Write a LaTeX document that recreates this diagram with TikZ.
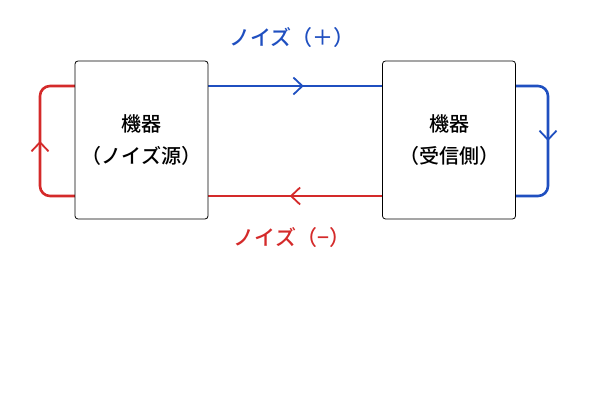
\documentclass[tikz,border=0pt]{standalone}
\usepackage{fontspec}
\newfontfamily\cjk{Noto Sans CJK JP Medium}[BoldFont=Noto Sans CJK JP Bold]
\usetikzlibrary{arrows.meta,decorations.markings}
\definecolor{nblue}{HTML}{1F4FC0}
\definecolor{nred}{HTML}{D42A2A}
\tikzset{
  dev/.style={draw=black,fill=white,rounded corners=3pt,line width=0.8pt,minimum width=133pt,minimum height=158pt,inner sep=0pt,align=center,font=\cjk\fontsize{20}{32}\selectfont},
  wire/.style={line width=2.6pt,rounded corners=10pt},
  midarr/.style={postaction={decorate},decoration={markings,mark=at position #1 with {\arrow[line width=1.8pt]{Straight Barb[length=9pt,width=17pt]}}}},
  lbl/.style={font=\cjk\fontsize{21}{24}\selectfont}
}
\begin{document}
\begin{tikzpicture}[x=1pt,y=-1pt]
\useasboundingbox (0,0) rectangle (600,406);
\coordinate (ltop) at (75,86); \coordinate (rtop) at (516,86);
\coordinate (lbot) at (75,196); \coordinate (rbot) at (516,196);
\draw[wire,nblue,midarr=0.55] (208,86) -- (382,86);
\draw[wire,nblue,midarr=0.5] (rtop) -- (548,86) -- (548,196) -- (rbot);
\draw[wire,nred,midarr=0.53] (382,196) -- (208,196);
\draw[wire,nred,midarr=0.5] (lbot) -- (40,196) -- (40,86) -- (ltop);
\node[dev] (src) at (141.5,140) {機器\\（ノイズ源）};
\node[dev] (rcv) at (449,140) {機器\\（受信側）};
\node[lbl,nblue] (lp) at (292,38) {ノイズ（＋）};
\node[lbl,nred] (lm) at (292,238) {ノイズ（−）};
\end{tikzpicture}
\end{document}
